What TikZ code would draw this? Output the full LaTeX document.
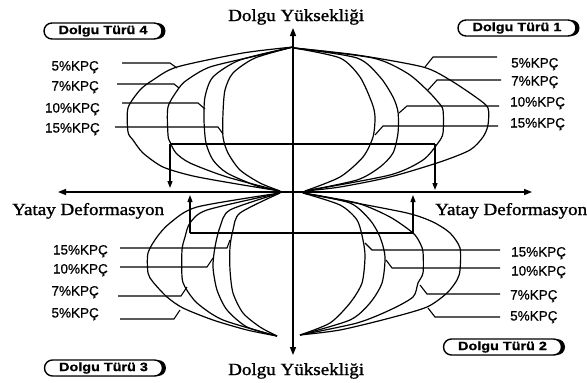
\documentclass[tikz,border=0pt]{standalone}
\usepackage{graphicx}
\usepackage{fontspec}
\setmainfont{Liberation Serif}[FakeBold=1.2]
\newfontfamily\heavyserif{Liberation Serif}[FakeBold=1.2]
\newfontfamily\kpcfont{Liberation Sans}[FakeBold=0.6]
\newfontfamily\boxfont{Liberation Sans Bold}[FakeBold=1]
\usetikzlibrary{arrows.meta,shadows}
\newcommand\kpcleader[4]{%
  \coordinate (#1s) at #2;
  \coordinate (#1b) at #3;
  \coordinate (#1e) at #4;
  \draw[leader] (#1s) -- (#1b) -- (#1e);}
\begin{document}
\begin{tikzpicture}[x=1pt,y=-1pt,
  curve/.style={line width=1.2pt, smooth, tension=0.45, line join=round},
  axisline/.style={line width=1.4pt, {Triangle[width=6pt,length=8pt]}-{Triangle[width=6pt,length=8pt]}},
  barline/.style={line width=1.2pt},
  smallarrow/.style={line width=1.2pt, -{Triangle[width=5pt,length=7pt]}},
  leader/.style={line width=1.1pt},
  kpc/.style={inner sep=0pt, font=\kpcfont\fontsize{13.5}{15}\selectfont},
  axislabel/.style={inner sep=0pt, font=\heavyserif\fontsize{17}{20}\selectfont},
  typebox/.style={draw, line width=1.4pt, fill=white, rounded corners=8pt,
    minimum width=118pt, minimum height=16pt, inner sep=0pt,
    font=\boxfont\fontsize{12}{13}\selectfont,
    drop shadow={shadow xshift=3.5pt, shadow yshift=0pt, opacity=1, fill=black}}
]
\useasboundingbox (0,0) rectangle (587,383);
\fill[white] (0,0) rectangle (587,383);

% axes
\coordinate (vtop) at (293,28);
\coordinate (vbot) at (293,355);
\coordinate (hl) at (58,192);
\coordinate (hr) at (532,192);
\draw[axisline] (vbot) -- (vtop);
\draw[axisline] (hl) -- (hr);

% axis labels
\node[axislabel, anchor=base west] (ytop) at (228,21) {\scalebox{1.12}[1]{Dolgu Yüksekliği}};
\node[axislabel, anchor=base west] (ybot) at (228,375) {\scalebox{1.12}[1]{Dolgu Yüksekliği}};
\node[axislabel, anchor=base west] (xleft) at (12,215) {\scalebox{1.12}[1]{Yatay Deformasyon}};
\node[axislabel, anchor=base west] (xright) at (435,215) {\scalebox{1.12}[1]{Yatay Deformasyon}};

% type boxes
\node[typebox] (t4) at (103,31) {\scalebox{1.2}[1]{Dolgu Türü 4}};
\node[typebox] (t1) at (517,28) {\scalebox{1.2}[1]{Dolgu Türü 1}};
\node[typebox] (t3) at (103.5,368) {\scalebox{1.2}[1]{Dolgu Türü 3}};
\node[typebox] (t2) at (502.5,347) {\scalebox{1.2}[1]{Dolgu Türü 2}};

% ---------- top-left curves
\draw[curve] plot coordinates {(293,47) (243,53) (177,67) (153,80) (140,90) (128,108) (128,132) (133,140) (143,153) (163,167) (193,176) (237,184) (280,191)};
\draw[curve] plot coordinates {(293,47) (260,55) (210,67) (187,80) (179,88) (168,107) (168,135) (170,142) (176,153) (190,163) (227,177) (280,191)};
\draw[curve] plot coordinates {(293,47) (240,60) (213,77) (205,97) (204,120) (206,143) (213,160) (227,173) (257,186) (280,191)};
\draw[curve] plot coordinates {(293,47) (255,58) (233,73) (225,90) (223,113) (223,137) (228,153) (240,170) (260,183) (280,191)};

% ---------- top-right curves
\draw[curve] plot coordinates {(294,48) (357,55) (423,67) (450,80) (477,98) (488,108) (488,125) (483,137) (470,150) (440,162) (390,177) (340,187) (305,191)};
\draw[curve] plot coordinates {(294,48) (373,58) (407,73) (427,90) (438,102) (443,110) (443,133) (438,143) (423,160) (390,175) (305,191)};
\draw[curve] plot coordinates {(294,48) (357,58) (380,77) (393,97) (398,112) (398,133) (393,153) (380,167) (357,180) (305,191)};
\draw[curve] plot coordinates {(294,48) (340,58) (360,77) (372,103) (375,117) (373,137) (363,157) (340,177) (305,191)};

% ---------- bottom-left curves
\draw[curve] plot coordinates {(280,193) (197,207) (170,223) (157,237) (148,253) (148,273) (153,282) (167,297) (183,308) (213,320) (247,330) (277,336)};
\draw[curve] plot coordinates {(280,193) (207,210) (190,223) (185,237) (182,250) (182,277) (185,287) (197,303) (223,320) (277,336)};
\draw[curve] plot coordinates {(280,193) (230,210) (220,227) (215,247) (213,267) (217,290) (227,310) (247,327) (277,336)};
\draw[curve] plot coordinates {(280,193) (240,213) (233,230) (230,247) (230,270) (233,293) (243,313) (260,327) (277,336)};

% ---------- bottom-right curves
\draw[curve] plot coordinates {(303,193) (340,200) (407,213) (433,222) (450,233) (460,248) (460,270) (457,280) (447,293) (427,307) (390,318) (340,330) (300,335)};
\draw[curve] plot coordinates {(303,193) (357,203) (390,217) (413,233) (420,243) (423,252) (423,273) (418,283) (413,297) (390,310) (357,323) (300,335)};
\draw[curve] plot coordinates {(303,193) (350,203) (370,220) (380,237) (385,257) (382,283) (370,303) (350,320) (300,335)};
\draw[curve] plot coordinates {(303,193) (340,205) (357,220) (363,240) (365,257) (362,283) (350,303) (330,323) (300,335)};

% ---------- bars and small arrows
\coordinate (tlbar) at (170,144); \coordinate (tlax) at (293,144); \coordinate (tltip) at (170,188);
\coordinate (trbar) at (435,144); \coordinate (trax) at (293,144); \coordinate (trtip) at (435,190);
\coordinate (blbar) at (190,233); \coordinate (blax) at (293,233); \coordinate (bltip) at (190,195);
\coordinate (brbar) at (413,233); \coordinate (brax) at (293,233); \coordinate (brtip) at (413,195);
\draw[barline] (tlbar) -- (tlax);
\draw[barline] (trax) -- (trbar);
\draw[barline] (blbar) -- (blax);
\draw[barline] (brax) -- (brbar);
\draw[smallarrow] (tlbar) -- (tltip);
\draw[smallarrow] (trbar) -- (trtip);
\draw[smallarrow] (blbar) -- (bltip);
\draw[smallarrow] (brbar) -- (brtip);

% ---------- labels
\node[kpc, anchor=base east] (tl5) at (99,70.5) {5\%KPÇ};
\node[kpc, anchor=base east] (tl7) at (99,90.5) {7\%KPÇ};
\node[kpc, anchor=base east] (tl10) at (100,112.5) {10\%KPÇ};
\node[kpc, anchor=base east] (tl15) at (100,132.5) {15\%KPÇ};

\node[kpc, anchor=base west] (tr5) at (511,67.5) {5\%KPÇ};
\node[kpc, anchor=base west] (tr7) at (511,85.5) {7\%KPÇ};
\node[kpc, anchor=base west] (tr10) at (510,106.5) {10\%KPÇ};
\node[kpc, anchor=base west] (tr15) at (510,127.5) {15\%KPÇ};

\node[kpc, anchor=base east] (bl15) at (108,254.5) {15\%KPÇ};
\node[kpc, anchor=base east] (bl10) at (108,273.5) {10\%KPÇ};
\node[kpc, anchor=base east] (bl7) at (99,295.5) {7\%KPÇ};
\node[kpc, anchor=base east] (bl5) at (99,317.5) {5\%KPÇ};

\node[kpc, anchor=base west] (br15) at (511,256.5) {15\%KPÇ};
\node[kpc, anchor=base west] (br10) at (511,275.5) {10\%KPÇ};
\node[kpc, anchor=base west] (br7) at (510,299.5) {7\%KPÇ};
\node[kpc, anchor=base west] (br5) at (510,320.5) {5\%KPÇ};

% ---------- leaders
\kpcleader{ltla}{(122,63)}{(170,63)}{(177,68)}
\kpcleader{ltlb}{(117,84)}{(174,84)}{(179,88)}
\kpcleader{ltlc}{(122,103)}{(198,103)}{(205,109)}
\kpcleader{ltld}{(115,127)}{(218,127)}{(223,134)}

\kpcleader{ltra}{(497,57)}{(433,57)}{(425,67)}
\kpcleader{ltrb}{(501,80)}{(437,80)}{(428,90)}
\kpcleader{ltrc}{(499,106)}{(407,106)}{(399,113)}
\kpcleader{ltrd}{(498,126)}{(383,126)}{(375,135)}

\kpcleader{lbla}{(120,248)}{(227,248)}{(230,240)}
\kpcleader{lblb}{(120,267)}{(207,267)}{(213,258)}
\kpcleader{lblc}{(118,296)}{(181,296)}{(187,287)}
\kpcleader{lbld}{(120,319)}{(174,319)}{(180,310)}

\kpcleader{lbra}{(500,250)}{(372,250)}{(365,243)}
\kpcleader{lbrb}{(500,268)}{(392,268)}{(386,260)}
\kpcleader{lbrc}{(500,294)}{(427,294)}{(420,285)}
\kpcleader{lbrd}{(500,317)}{(435,317)}{(428,308)}
\end{tikzpicture}
\end{document}
